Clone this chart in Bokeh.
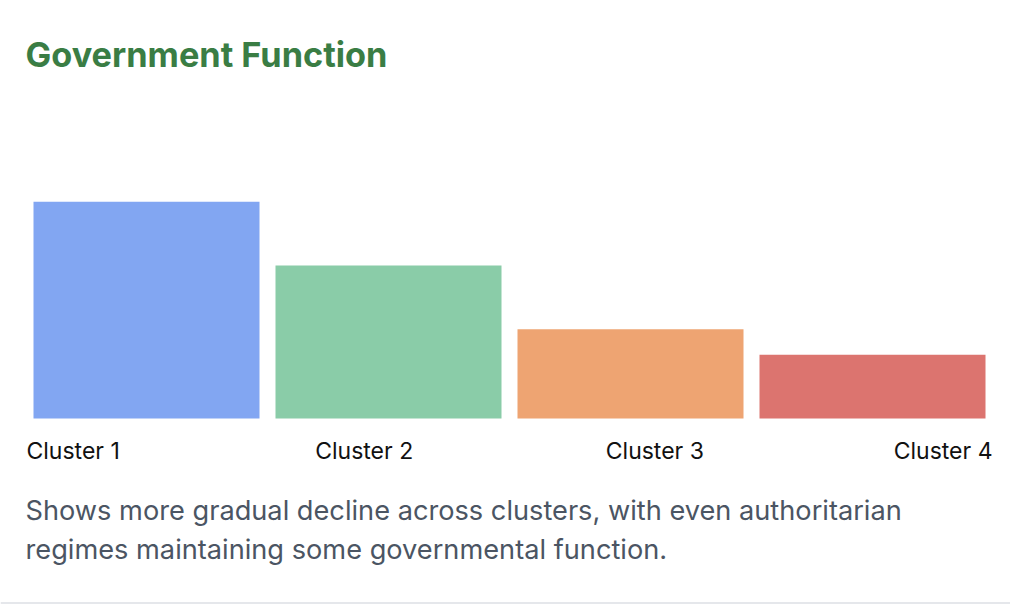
from bokeh.plotting import figure
from bokeh.models import Range1d, Label, Span
from bokeh.embed import file_html
from bokeh.resources import INLINE

# ---- data ----
categories = ["Cluster 1", "Cluster 2", "Cluster 3", "Cluster 4"]
values = [85, 60, 35, 25]
colors = ["#82a6f2", "#8acca8", "#eea472", "#dc746f"]
title_text = "Government Function"
desc_lines = ["Shows more gradual decline across clusters, with even authoritarian",
              "regimes maintaining some governmental function."]

# ---- layout constants (pixels) ----
W, H = 1010, 610
SLOT = 242.0           # px per category
FIRST_CENTER = 146.0   # px centre of first bar
BASE_PX = 418.0        # px of value 0 (from top)
PX_PER_UNIT = 2.55     # px per value unit

x_start = 0.5 - FIRST_CENTER / SLOT
x_end = x_start + W / SLOT
y_top = BASE_PX / PX_PER_UNIT
y_bottom = y_top - H / PX_PER_UNIT


def px_x(px):
    return x_start + px / SLOT


def px_y(py):
    return y_top - py / PX_PER_UNIT


p = figure(width=W, height=H, x_range=Range1d(x_start, x_end), y_range=Range1d(y_bottom, y_top),
           x_axis_type=None, y_axis_type=None, toolbar_location=None, output_backend="svg",
           min_border=0)
p.grid.visible = False
p.outline_line_color = None
p.background_fill_color = "white"
p.border_fill_color = "white"

xs = [i + 0.5 for i in range(len(categories))]
p.vbar(x=xs, top=values, bottom=0, width=226.0 / SLOT, fill_color=colors, line_color=None)

FONT = "Inter"

p.add_layout(Label(x=px_x(25), y=px_y(54), text=title_text, text_font=FONT, text_font_size="34.3px",
                   text_font_style="bold", text_color="#3a7d44", text_baseline="alphabetic",
                   text_align="left"))

# category labels spread edge-to-edge
n = len(categories)
for i, c in enumerate(categories):
    if i == 0:
        xp, al = 26, "left"
    elif i == n - 1:
        xp, al = 992, "right"
    else:
        xp, al = 73 + (945 - 73) * i / (n - 1), "center"
    p.add_layout(Label(x=px_x(xp), y=px_y(450), text=c, text_font=FONT, text_font_size="23px",
                       text_color="#111111", text_baseline="alphabetic", text_align=al))

for j, line in enumerate(desc_lines):
    p.add_layout(Label(x=px_x(25), y=px_y(510 + 39 * j), text=line, text_font=FONT,
                       text_font_size="27.2px", text_color="#4b5563", text_baseline="alphabetic",
                       text_align="left"))

p.add_layout(Span(location=px_y(602.5), dimension="width", line_color="#e5e7eb", line_width=2))

open("out.html", "w").write(file_html(p, INLINE))
